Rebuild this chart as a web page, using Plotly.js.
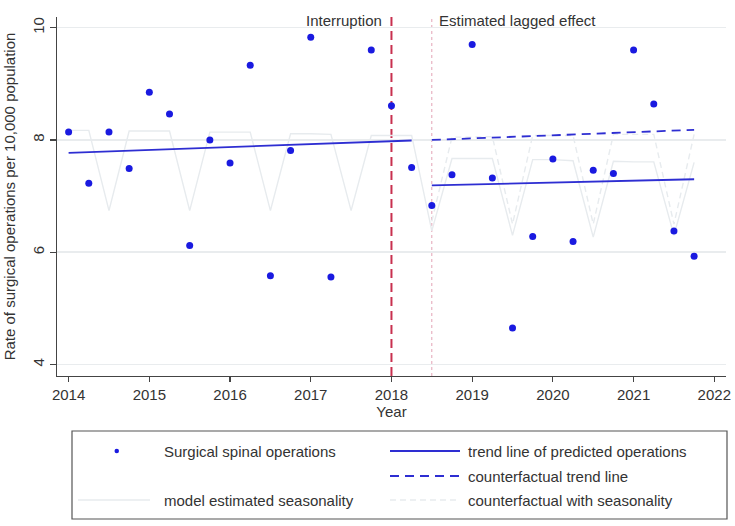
<!DOCTYPE html>
<html>
<head>
<meta charset="utf-8">
<script src="https://cdn.plot.ly/plotly-3.0.1.min.js"></script>
<style>html,body{margin:0;padding:0;background:#fff;}#chart{width:735px;height:526px;}</style>
</head>
<body>
<div id="chart"></div>
<script>
// ---------------- data ----------------
const quarters = [2014, 2014.25, 2014.5, 2014.75, 2015, 2015.25, 2015.5, 2015.75,
                  2016, 2016.25, 2016.5, 2016.75, 2017, 2017.25, 2017.5, 2017.75,
                  2018, 2018.25, 2018.5, 2018.75, 2019, 2019.25, 2019.5, 2019.75,
                  2020, 2020.25, 2020.5, 2020.75, 2021, 2021.25, 2021.5, 2021.75];
const operations = [8.14, 7.23, 8.14, 7.49, 8.85, 8.46, 6.12, 8.00,
                    7.59, 9.33, 5.58, 7.81, 9.83, 5.56, null, 9.60,
                    8.61, 7.51, 6.83, 7.38, 9.70, 7.32, 4.65, 6.28,
                    7.66, 6.19, 7.46, 7.40, 9.60, 8.64, 6.38, 5.93];
const seasonality = [8.17, 8.17, 6.74, 8.16, 8.16, 8.16, 6.74, 8.14,
                     8.14, 8.14, 6.74, 8.11, 8.11, 8.10, 6.74, 8.08,
                     8.08, 8.08, 6.38, 7.67, 7.67, 7.67, 6.30, 7.65,
                     7.65, 7.63, 6.27, 7.62, 7.61, 7.61, 6.30, 7.60];
const cfQuarters = [2018.5, 2018.75, 2019, 2019.25, 2019.5, 2019.75, 2020,
                    2020.25, 2020.5, 2020.75, 2021, 2021.25, 2021.5, 2021.75];
const cfSeasonality = [6.55, 8.05, 8.05, 8.06, 6.50, 8.08, 8.08,
                       8.08, 6.50, 8.10, 8.10, 8.10, 6.50, 8.10];
const trendPreX = [2014, 2018.25];
const trendPreY = [7.77, 7.99];
const trendPostX = [2018.5, 2021.75];
const trendPostY = [7.19, 7.30];
const cfTrendX = [2018.5, 2021.75];
const cfTrendY = [8.00, 8.18];
const interruptionYear = 2018;
const lagYear = 2018.5;
const xTicks = [2014, 2015, 2016, 2017, 2018, 2019, 2020, 2021, 2022];
const yTicks = [4, 6, 8, 10];
const legendLabels = ["Surgical spinal operations", "trend line of predicted operations",
                      "counterfactual trend line", "model estimated seasonality",
                      "counterfactual with seasonality"];

// ---------------- styles ----------------
const BLUE_PT = '#1a1ae0';
const BLUE_LN = '#2e2ed2';
const SEAS = '#e7ebee';
const TXT = '#333333';
const FONT = 'Liberation Sans, Arial, sans-serif';

// plot geometry (pixels) for placing the hand-drawn legend
const W = 735, H = 526;
const M = {l: 57, r: 9, t: 17, b: 150};
const pw = W - M.l - M.r, ph = H - M.t - M.b;
const px = v => (v - M.l) / pw;
const py = v => (H - M.b - v) / ph;

const traces = [
  {x: quarters, y: seasonality, type: 'scatter', mode: 'lines',
   line: {color: SEAS, width: 1.4}, hoverinfo: 'skip'},
  {x: cfQuarters, y: cfSeasonality, type: 'scatter', mode: 'lines',
   line: {color: SEAS, width: 1.4, dash: '6px,4px'}, hoverinfo: 'skip'},
  {x: trendPreX, y: trendPreY, type: 'scatter', mode: 'lines',
   line: {color: BLUE_LN, width: 1.8}},
  {x: trendPostX, y: trendPostY, type: 'scatter', mode: 'lines',
   line: {color: BLUE_LN, width: 1.8}},
  {x: cfTrendX, y: cfTrendY, type: 'scatter', mode: 'lines',
   line: {color: BLUE_LN, width: 1.8, dash: '9px,6px'}},
  {x: quarters, y: operations, type: 'scatter', mode: 'markers',
   marker: {color: BLUE_PT, size: 7}, connectgaps: false}
];

const shapes = [
  {type: 'line', xref: 'x', yref: 'paper', x0: interruptionYear, x1: interruptionYear, y0: 0, y1: 1,
   line: {color: '#c8304f', width: 2, dash: '9px,5px'}, layer: 'between'},
  {type: 'line', xref: 'x', yref: 'paper', x0: lagYear, x1: lagYear, y0: 0, y1: 1,
   line: {color: '#e3a3b5', width: 1, dash: 'dot'}, layer: 'between'},
  // legend box
  {type: 'rect', xref: 'paper', yref: 'paper', x0: px(72), x1: px(727), y0: py(431), y1: py(519),
   line: {color: '#555', width: 1.2}, fillcolor: 'rgba(0,0,0,0)'},
  // legend samples
  {type: 'circle', xref: 'paper', yref: 'paper', x0: px(114.5), x1: px(119), y0: py(448.7), y1: py(453.2),
   line: {width: 0}, fillcolor: BLUE_PT},
  {type: 'line', xref: 'paper', yref: 'paper', x0: px(390), x1: px(460), y0: py(451), y1: py(451),
   line: {color: BLUE_LN, width: 1.8}},
  {type: 'line', xref: 'paper', yref: 'paper', x0: px(390), x1: px(460), y0: py(476), y1: py(476),
   line: {color: BLUE_LN, width: 1.8, dash: '9px,6px'}},
  {type: 'line', xref: 'paper', yref: 'paper', x0: px(78), x1: px(150), y0: py(500), y1: py(500),
   line: {color: SEAS, width: 1.4}},
  {type: 'line', xref: 'paper', yref: 'paper', x0: px(390), x1: px(460), y0: py(500), y1: py(500),
   line: {color: SEAS, width: 1.4, dash: '6px,4px'}}
];

const legAnn = (text, xp, yp) => ({text: text, xref: 'paper', yref: 'paper', x: px(xp), y: py(yp),
  xanchor: 'left', yanchor: 'middle', showarrow: false, font: {size: 15, color: TXT, family: FONT}});

const annotations = [
  {text: 'Interruption', xref: 'x', yref: 'paper', x: interruptionYear, y: 1, xanchor: 'right', yanchor: 'middle',
   xshift: -7, yshift: -3, showarrow: false, font: {size: 15, color: TXT, family: FONT}},
  {text: 'Estimated lagged effect', xref: 'x', yref: 'paper', x: lagYear, y: 1, xanchor: 'left', yanchor: 'middle',
   xshift: 5, yshift: -3, showarrow: false, font: {size: 15, color: TXT, family: FONT}},
  legAnn(legendLabels[0], 162, 451),
  legAnn(legendLabels[1], 466, 451),
  legAnn(legendLabels[2], 466, 476),
  legAnn(legendLabels[3], 162, 500),
  legAnn(legendLabels[4], 466, 500)
];

const layout = {
  width: W, height: H, margin: M,
  paper_bgcolor: '#ffffff', plot_bgcolor: '#ffffff',
  showlegend: false,
  font: {family: FONT, size: 15, color: TXT},
  xaxis: {range: [2013.856, 2022.145], tickvals: xTicks, ticktext: xTicks.map(String),
          ticks: 'outside', ticklen: 5, tickwidth: 1.2, tickcolor: '#444',
          showline: true, linecolor: '#444', linewidth: 1.3, showgrid: false, zeroline: false,
          tickfont: {size: 15, color: TXT}, title: {text: 'Year', font: {size: 15, color: TXT}, standoff: 0}},
  yaxis: {range: [3.795, 10.19], tickvals: yTicks, ticktext: yTicks.map(String), tickangle: -90,
          ticks: 'outside', ticklen: 6, tickwidth: 1.2, tickcolor: '#444',
          showline: true, linecolor: '#444', linewidth: 1.3,
          showgrid: true, gridcolor: '#e9ecee', gridwidth: 1.5, zeroline: false,
          tickfont: {size: 15, color: TXT},
          title: {text: 'Rate of surgical operations per 10,000 population', font: {size: 15, color: TXT}, standoff: 10}},
  shapes: shapes,
  annotations: annotations
};

Plotly.newPlot('chart', traces, layout, {displayModeBar: false, staticPlot: true});
</script>
</body>
</html>
